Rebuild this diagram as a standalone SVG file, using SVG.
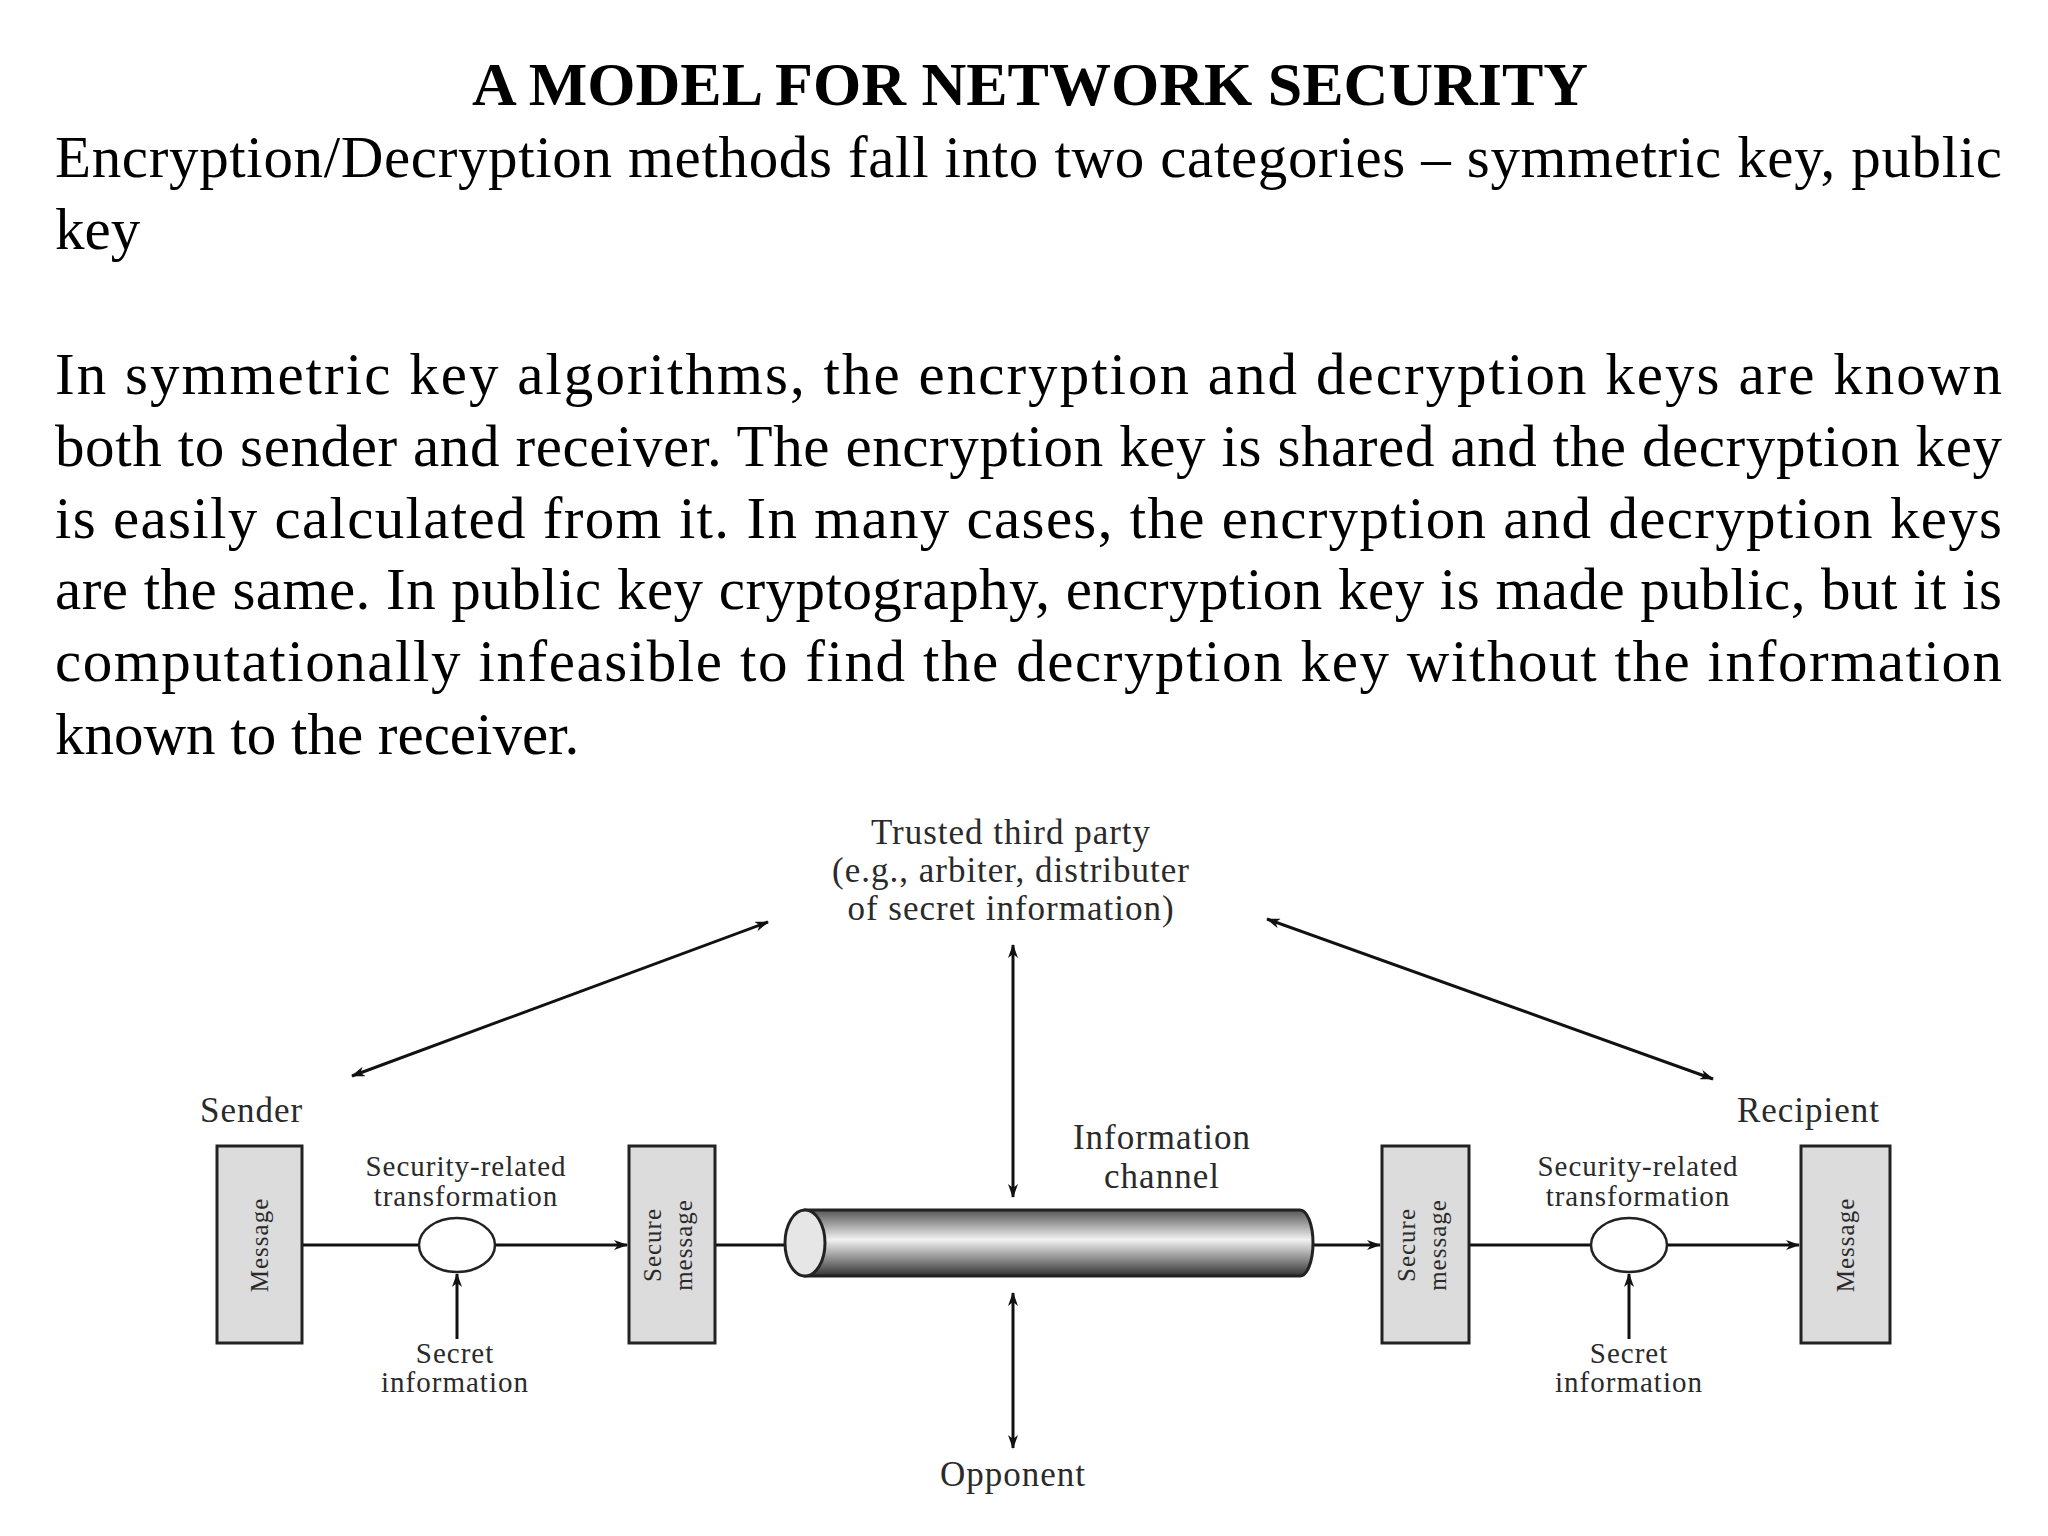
<svg xmlns="http://www.w3.org/2000/svg" width="2048" height="1536" viewBox="0 0 2048 1536">
<defs>
<marker id="ah" viewBox="0 0 14 10" refX="13" refY="5" markerWidth="14" markerHeight="10" markerUnits="userSpaceOnUse" orient="auto-start-reverse"><path d="M0,0 L14,5 L0,10 L4,5 Z" fill="#111"/></marker>
<linearGradient id="cyl" x1="0" y1="0" x2="0" y2="1">
<stop offset="0" stop-color="#555"/><stop offset="0.45" stop-color="#f2f2f2"/><stop offset="1" stop-color="#333"/></linearGradient>
</defs>
<style>
.body{font-family:"Liberation Serif",serif;font-size:59px;fill:#000}
.title{font-family:"Liberation Serif",serif;font-size:62px;font-weight:bold;fill:#000}
.lbl{font-family:"Liberation Serif",serif;fill:#2a2a2a;letter-spacing:1px}
.box{fill:#dcdcdc;stroke:#222;stroke-width:3}
.ln{stroke:#111;stroke-width:3;fill:none}
</style>
<rect width="2048" height="1536" fill="#fff"/>
<text class="title" x="1030" y="105" text-anchor="middle">A MODEL FOR NETWORK SECURITY</text>
<g class="body">
<text x="55" y="177" textLength="1947" lengthAdjust="spacing">Encryption/Decryption methods fall into two categories – symmetric key, public</text>
<text x="55" y="249">key</text>
<text x="55" y="394" textLength="1947" lengthAdjust="spacing">In symmetric key algorithms, the encryption and decryption keys are known</text>
<text x="55" y="466" textLength="1947" lengthAdjust="spacing">both to sender and receiver. The encryption key is shared and the decryption key</text>
<text x="55" y="538" textLength="1947" lengthAdjust="spacing">is easily calculated from it. In many cases, the encryption and decryption keys</text>
<text x="55" y="609" textLength="1947" lengthAdjust="spacing">are the same. In public key cryptography, encryption key is made public, but it is</text>
<text x="55" y="681" textLength="1947" lengthAdjust="spacing">computationally infeasible to find the decryption key without the information</text>
<text x="55" y="754">known to the receiver.</text>
</g>
<g id="connectors">
<line class="ln" x1="352" y1="1076" x2="768" y2="922" marker-start="url(#ah)" marker-end="url(#ah)"/>
<line class="ln" x1="1267" y1="919" x2="1713" y2="1079" marker-start="url(#ah)" marker-end="url(#ah)"/>
<line class="ln" x1="1013" y1="945" x2="1013" y2="1197" marker-start="url(#ah)" marker-end="url(#ah)"/>
<line class="ln" x1="1013" y1="1293" x2="1013" y2="1448" marker-start="url(#ah)" marker-end="url(#ah)"/>
<line class="ln" x1="302" y1="1245" x2="419" y2="1245"/>
<line class="ln" x1="495" y1="1245" x2="627" y2="1245" marker-end="url(#ah)"/>
<line class="ln" x1="715" y1="1245" x2="805" y2="1245" marker-end="url(#ah)"/>
<line class="ln" x1="1313" y1="1245" x2="1380" y2="1245" marker-end="url(#ah)"/>
<line class="ln" x1="1469" y1="1245" x2="1591" y2="1245"/>
<line class="ln" x1="1667" y1="1245" x2="1799" y2="1245" marker-end="url(#ah)"/>
<line class="ln" x1="457" y1="1339" x2="457" y2="1274" marker-end="url(#ah)"/>
<line class="ln" x1="1629" y1="1339" x2="1629" y2="1274" marker-end="url(#ah)"/>
</g>
<g id="ttp" class="lbl" font-size="35" text-anchor="middle">
<text x="1011" y="844">Trusted third party</text>
<text x="1011" y="882">(e.g., arbiter, distributer</text>
<text x="1011" y="920">of secret information)</text>
</g>
<g id="opponent"><text class="lbl" x="1013" y="1486" font-size="35" text-anchor="middle">Opponent</text></g>
<g id="channel">
<path d="M805,1210 L1300,1210 A13,33 0 0 1 1300,1276 L805,1276 Z" fill="url(#cyl)" stroke="#222" stroke-width="3"/>
<ellipse cx="805" cy="1243" rx="20" ry="33" fill="#e6e6e6" stroke="#222" stroke-width="3"/>
<text class="lbl" x="1162" y="1149" font-size="35" text-anchor="middle">Information</text>
<text class="lbl" x="1162" y="1188" font-size="35" text-anchor="middle">channel</text>
</g>
<g id="sender">
<text class="lbl" x="200" y="1122" font-size="35">Sender</text>
<rect class="box" x="217" y="1146" width="85" height="197"/>
<text class="lbl" font-size="25" text-anchor="middle" transform="translate(268,1245) rotate(-90)">Message</text>
</g>
<g id="sender-transform">
<ellipse cx="457" cy="1245" rx="38" ry="27" fill="#fff" stroke="#222" stroke-width="2.5"/>
<text class="lbl" x="466" y="1176" font-size="29" text-anchor="middle">Security-related</text>
<text class="lbl" x="466" y="1206" font-size="29" text-anchor="middle">transformation</text>
<text class="lbl" x="455" y="1363" font-size="29" text-anchor="middle">Secret</text>
<text class="lbl" x="455" y="1392" font-size="29" text-anchor="middle">information</text>
</g>
<g id="sender-secure">
<rect class="box" x="629" y="1146" width="86" height="197"/>
<text class="lbl" font-size="25" text-anchor="middle" transform="translate(661,1245) rotate(-90)">Secure</text>
<text class="lbl" font-size="25" text-anchor="middle" transform="translate(692,1245) rotate(-90)">message</text>
</g>
<g id="recipient-secure">
<rect class="box" x="1382" y="1146" width="87" height="197"/>
<text class="lbl" font-size="25" text-anchor="middle" transform="translate(1415,1245) rotate(-90)">Secure</text>
<text class="lbl" font-size="25" text-anchor="middle" transform="translate(1446,1245) rotate(-90)">message</text>
</g>
<g id="recipient-transform">
<ellipse cx="1629" cy="1245" rx="38" ry="27" fill="#fff" stroke="#222" stroke-width="2.5"/>
<text class="lbl" x="1638" y="1176" font-size="29" text-anchor="middle">Security-related</text>
<text class="lbl" x="1638" y="1206" font-size="29" text-anchor="middle">transformation</text>
<text class="lbl" x="1629" y="1363" font-size="29" text-anchor="middle">Secret</text>
<text class="lbl" x="1629" y="1392" font-size="29" text-anchor="middle">information</text>
</g>
<g id="recipient">
<text class="lbl" x="1880" y="1122" font-size="35" text-anchor="end">Recipient</text>
<rect class="box" x="1801" y="1146" width="89" height="197"/>
<text class="lbl" font-size="25" text-anchor="middle" transform="translate(1854,1245) rotate(-90)">Message</text>
</g>
</svg>
